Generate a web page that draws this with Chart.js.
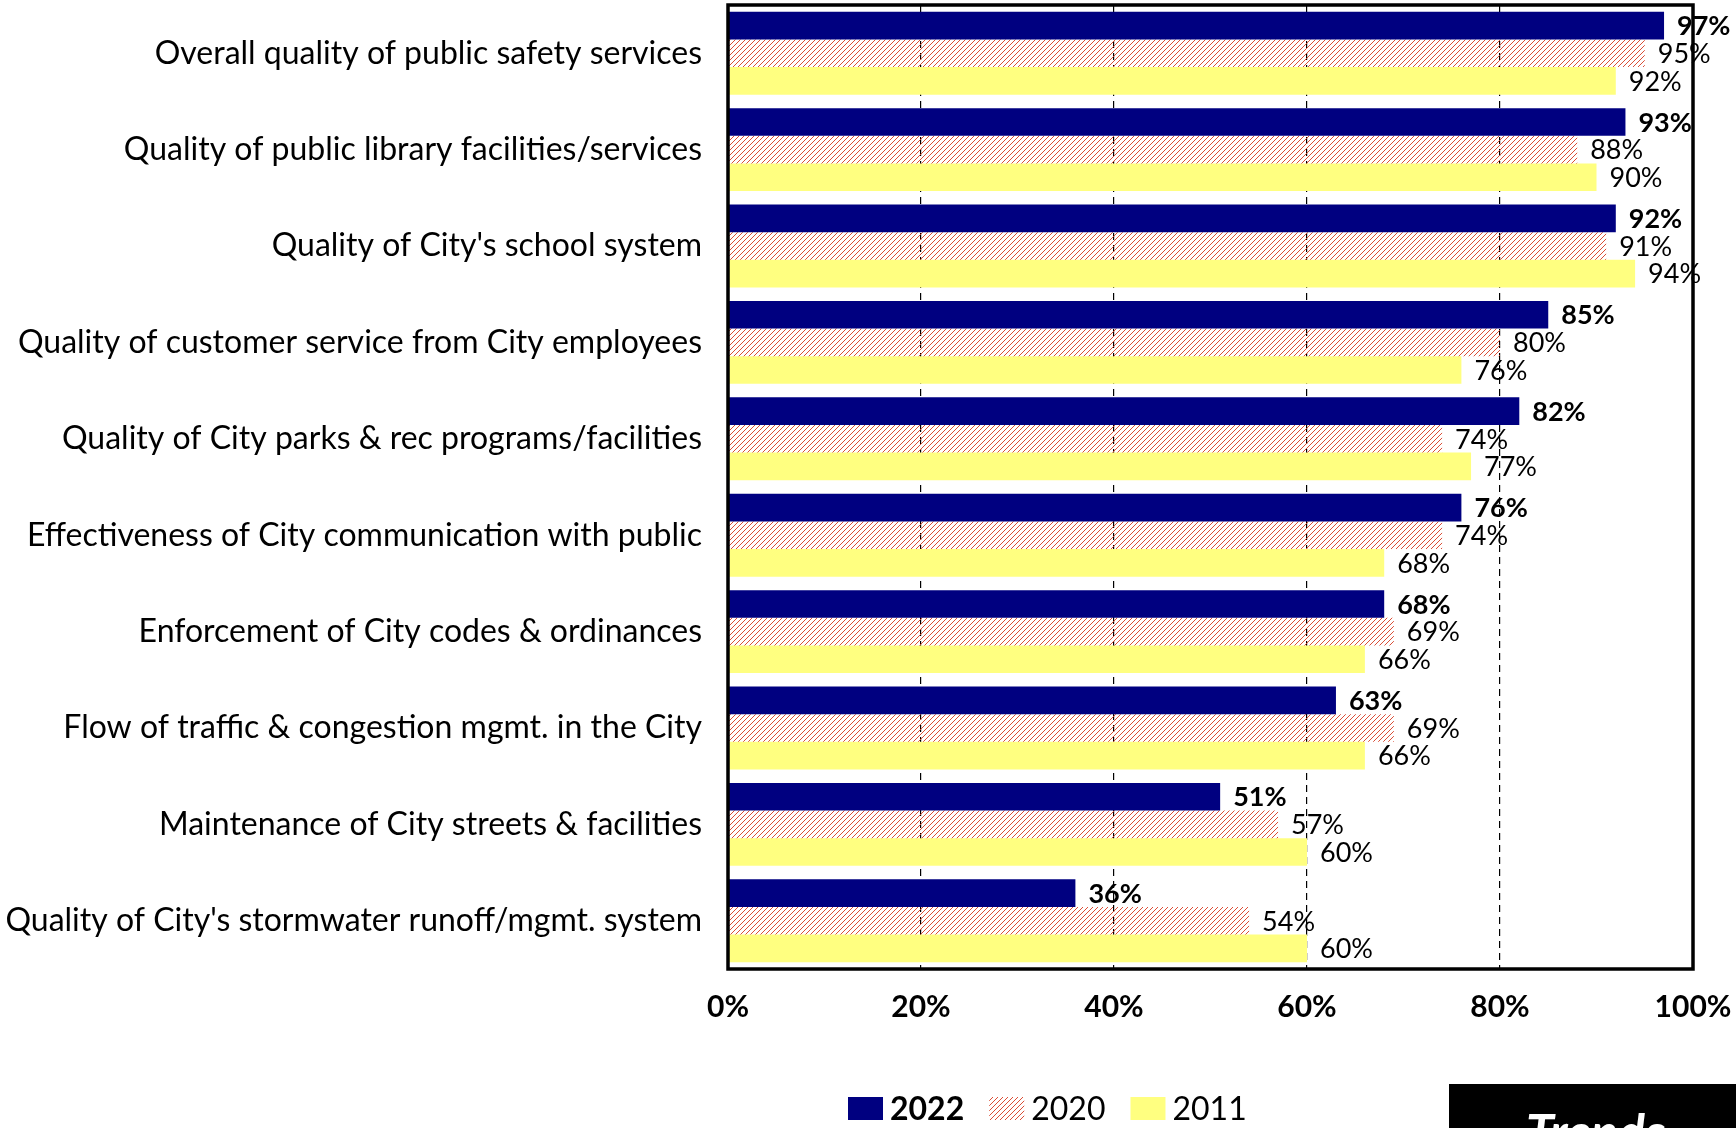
<!DOCTYPE html>
<html>
<head>
<meta charset="utf-8">
<script src="https://cdn.jsdelivr.net/npm/chart.js@4"></script>
<style>
  html, body { margin: 0; padding: 0; background: #fff; }
  #wrap { width: 1736px; height: 1128px; position: relative; }
</style>
</head>
<body>
<div id="wrap"><canvas id="trendChart"></canvas></div>
<script>
const categories = [
  "Overall quality of public safety services",
  "Quality of public library facilities/services",
  "Quality of City's school system",
  "Quality of customer service from City employees",
  "Quality of City parks & rec programs/facilities",
  "Effectiveness of City communication with public",
  "Enforcement of City codes & ordinances",
  "Flow of traffic & congestion mgmt. in the City",
  "Maintenance of City streets & facilities",
  "Quality of City's stormwater runoff/mgmt. system",
];
const years = ["2022", "2020", "2011"];
const values2022 = [97, 93, 92, 85, 82, 76, 68, 63, 51, 36];
const values2020 = [95, 88, 91, 80, 74, 74, 69, 69, 57, 54];
const values2011 = [92, 90, 94, 76, 77, 68, 66, 66, 60, 60];
const xTicks = [0, 20, 40, 60, 80, 100];

const FONT = "Lato, 'Open Sans', sans-serif";

// diagonal red hatch used for the 2020 bars
function makeHatch() {
  const c = document.createElement("canvas");
  c.width = 5;
  c.height = 5;
  const g = c.getContext("2d");
  g.strokeStyle = "#d9452b";
  g.lineWidth = 0.95;
  g.beginPath();
  g.moveTo(0, 5); g.lineTo(5, 0);
  g.moveTo(-1, 1); g.lineTo(1, -1);
  g.moveTo(4, 6); g.lineTo(6, 4);
  g.stroke();
  return g.createPattern(c, "repeat");
}
const hatch = makeHatch();

// value labels to the right of every bar, bold for the latest year
const valueLabels = {
  id: "valueLabels",
  afterDatasetsDraw(chart) {
    const ctx = chart.ctx;
    ctx.save();
    ctx.fillStyle = "#000";
    ctx.textBaseline = "middle";
    ctx.textAlign = "left";
    chart.data.datasets.forEach((ds, i) => {
      ctx.font = (i === 0 ? "bold " : "") + "27px " + FONT;
      chart.getDatasetMeta(i).data.forEach((bar, j) => {
        ctx.fillText(ds.data[j] + "%", bar.x + 13, bar.y + 1);
      });
    });
    ctx.restore();
  }
};

// heavy frame round the plot area
const plotFrame = {
  id: "plotFrame",
  afterDatasetsDraw(chart) {
    const a = chart.chartArea;
    const ctx = chart.ctx;
    ctx.save();
    ctx.strokeStyle = "#000";
    ctx.lineWidth = 3.5;
    ctx.strokeRect(a.left, a.top, a.right - a.left, a.bottom - a.top);
    ctx.restore();
  }
};

// legend below the axis: first year bold, then the black "Trends" tab
const bottomLegend = {
  id: "bottomLegend",
  afterDraw(chart) {
    const ctx = chart.ctx;
    ctx.save();
    let x = 848;
    const y = 1108;
    chart.data.datasets.forEach((ds, i) => {
      ctx.fillStyle = ds.backgroundColor;
      ctx.fillRect(x, y - 11, 35, 23);
      x += 42;
      ctx.font = (i === 0 ? "bold " : "") + "32px " + FONT;
      ctx.fillStyle = "#000";
      ctx.textBaseline = "middle";
      ctx.fillText(ds.label, x, y + 2);
      x += ctx.measureText(ds.label).width + 25;
    });

    ctx.fillStyle = "#000";
    ctx.fillRect(1449, 1084, 1736 - 1449, 1128 - 1084);
    ctx.fillStyle = "#fff";
    ctx.font = "italic bold 50px " + FONT;
    ctx.textBaseline = "alphabetic";
    ctx.fillText("Trends", 1526, 1150);
    ctx.restore();
  }
};

const data = {
  labels: categories,
  datasets: [
    { label: years[0], data: values2022, backgroundColor: "#000080" },
    { label: years[1], data: values2020, backgroundColor: hatch },
    { label: years[2], data: values2011, backgroundColor: "#ffff80" },
  ],
};

const config = {
  type: "bar",
  data: data,
  options: {
    indexAxis: "y",
    responsive: true,
    maintainAspectRatio: false,
    animation: false,
    datasets: {
      bar: { categoryPercentage: 0.86, barPercentage: 1.0, borderWidth: 0 }
    },
    layout: { padding: { top: 5, right: 43, bottom: 99, left: 0 } },
    plugins: {
      legend: { display: false },
      tooltip: { enabled: false },
    },
    scales: {
      x: {
        min: 0,
        max: 100,
        afterBuildTicks: (scale) => {
          scale.ticks = xTicks.map((v) => ({ value: v }));
        },
        afterFit: (scale) => {
          scale.height = 60;
          scale.paddingLeft = 0;
          scale.paddingRight = 0;
        },
        ticks: {
          callback: (v) => v + "%",
          color: "#000",
          padding: 20,
          maxRotation: 0,
          font: { family: FONT, size: 30, weight: "bold" },
        },
        grid: {
          drawTicks: false,
          lineWidth: 1.2,
          color: (c) => (c.tick && (c.tick.value === 0 || c.tick.value === 100)) ? "rgba(0,0,0,0)" : "#000",
        },
        border: { display: false, dash: [7, 5] },
      },
      y: {
        afterFit: (scale) => {
          scale.width = 728;
          scale.paddingTop = 0;
          scale.paddingBottom = 0;
        },
        ticks: {
          autoSkip: false,
          color: "#000",
          padding: 26,
          font: { family: FONT, size: 32 },
        },
        grid: { display: false, drawTicks: false },
        border: { display: false },
      },
    },
  },
  plugins: [valueLabels, plotFrame, bottomLegend],
};

window.onload = function () {
  const ctx = document.getElementById("trendChart").getContext("2d");
  new Chart(ctx, config);
};
</script>
</body>
</html>
